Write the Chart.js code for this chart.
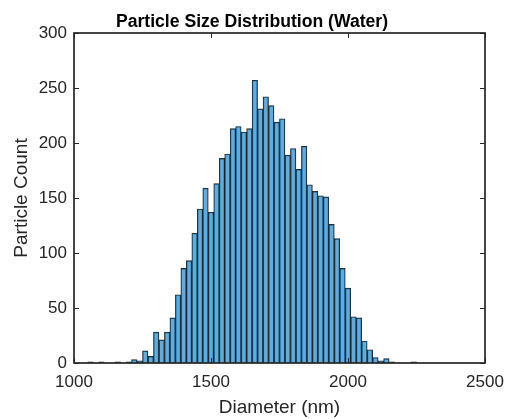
<!DOCTYPE html>
<html>
<head>
<meta charset="utf-8">
<title>Particle Size Distribution</title>
<script src="https://cdn.jsdelivr.net/npm/chart.js@4.4.1/dist/chart.umd.min.js"></script>
<style>
    html, body { margin: 0; padding: 0; background: #fff; }
    #histChart { display: block; }
</style>
</head>
<body>
<canvas id="histChart" width="508" height="419"></canvas>
<script>
// bin centres (nm), 20 nm wide bins
const binCenters = [
    1020, 1040, 1060, 1080, 1100, 1120, 1140, 1160, 1180, 1200,
    1220, 1240, 1260, 1280, 1300, 1320, 1340, 1360, 1380, 1400,
    1420, 1440, 1460, 1480, 1500, 1520, 1540, 1560, 1580, 1600,
    1620, 1640, 1660, 1680, 1700, 1720, 1740, 1760, 1780, 1800,
    1820, 1840, 1860, 1880, 1900, 1920, 1940, 1960, 1980, 2000,
    2020, 2040, 2060, 2080, 2100, 2120, 2140, 2160, 2180, 2200,
    2220, 2240
];
const counts = [
    0, 0, 1, 0, 1, 0, 0, 1, 0, 1,
    3, 2, 11, 6, 28, 21, 28, 41, 62, 86,
    93, 118, 140, 159, 137, 163, 186, 190, 213, 215,
    210, 213, 257, 231, 242, 234, 219, 222, 189, 195,
    176, 197, 162, 156, 152, 151, 126, 113, 86, 68,
    42, 41, 20, 12, 5, 2, 4, 1, 0, 0,
    0, 1
];
const xTicks = [1000, 1500, 2000, 2500];
const yTicks = [0, 50, 100, 150, 200, 250, 300];
const chartTitle = "Particle Size Distribution (Water)";

const axisColor = "#262626";
const fontFamily = "'Liberation Sans', Arial, Helvetica, sans-serif";

// MATLAB style box with inward ticks on all four sides, plus the title
const boxPlugin = {
    id: "boxAxes",
    afterDatasetsDraw(chart) {
        const { ctx, chartArea: a, scales } = chart;
        const len = 5;
        ctx.save();
        ctx.strokeStyle = axisColor;
        ctx.lineWidth = 1;
        ctx.beginPath();
        xTicks.forEach(v => {
            const px = Math.round(scales.x.getPixelForValue(v)) + 0.5;
            ctx.moveTo(px, a.bottom);
            ctx.lineTo(px, a.bottom - len);
            ctx.moveTo(px, a.top);
            ctx.lineTo(px, a.top + len);
        });
        yTicks.forEach(v => {
            const py = Math.round(scales.y.getPixelForValue(v)) + 0.5;
            ctx.moveTo(a.left, py);
            ctx.lineTo(a.left + len, py);
            ctx.moveTo(a.right, py);
            ctx.lineTo(a.right - len, py);
        });
        ctx.stroke();
        ctx.lineWidth = 1.7;
        ctx.strokeRect(a.left, a.top, a.right - a.left, a.bottom - a.top);

        ctx.fillStyle = "#000";
        ctx.font = "bold 17.6px " + fontFamily;
        ctx.textAlign = "center";
        ctx.textBaseline = "alphabetic";
        ctx.fillText(chartTitle, 252, 27);
        ctx.restore();
    }
};

function renderHistogram() {
    const ctx = document.getElementById("histChart");

    new Chart(ctx, {
        type: "bar",
        data: {
            datasets: [{
                data: binCenters.map((c, i) => ({ x: c, y: counts[i] })),
                backgroundColor: "rgba(0, 114, 189, 0.6)",
                borderColor: "rgba(0, 0, 0, 0.85)",
                borderWidth: { top: 0.7, left: 0.7, right: 0.7, bottom: 0 },
                borderSkipped: false,
                barPercentage: 1,
                categoryPercentage: 1
            }]
        },
        options: {
            responsive: false,
            animation: false,
            devicePixelRatio: 1,
            layout: {
                padding: { left: 0, right: 23, top: 33, bottom: 0 }
            },
            scales: {
                x: {
                    type: "linear",
                    offset: false,
                    min: 1000,
                    max: 2500,
                    afterBuildTicks: axis => {
                        axis.ticks = xTicks.map(v => ({ value: v }));
                    },
                    afterFit: axis => {
                        axis.height = 56;
                        axis.paddingLeft = 0;
                        axis.paddingRight = 0;
                    },
                    grid: { display: false, drawTicks: false },
                    border: { display: false },
                    ticks: {
                        color: axisColor,
                        padding: 9,
                        maxRotation: 0,
                        callback: v => String(v),
                        font: { family: fontFamily, size: 17 }
                    },
                    title: {
                        display: true,
                        text: "Diameter (nm)",
                        color: axisColor,
                        padding: { top: 0, bottom: 0 },
                        font: { family: fontFamily, size: 19 }
                    }
                },
                y: {
                    min: 0,
                    max: 300,
                    afterBuildTicks: axis => {
                        axis.ticks = yTicks.map(v => ({ value: v }));
                    },
                    afterFit: axis => {
                        axis.width = 74;
                        axis.paddingTop = 0;
                        axis.paddingBottom = 0;
                    },
                    grid: { display: false, drawTicks: false },
                    border: { display: false },
                    ticks: {
                        color: axisColor,
                        padding: 7,
                        callback: v => String(v),
                        font: { family: fontFamily, size: 17 }
                    },
                    title: {
                        display: true,
                        text: "Particle Count",
                        color: axisColor,
                        padding: { top: 10, bottom: 0 },
                        font: { family: fontFamily, size: 19 }
                    }
                }
            },
            plugins: {
                legend: { display: false },
                tooltip: { enabled: false },
                title: { display: false }
            }
        },
        plugins: [boxPlugin]
    });
};

renderHistogram();
</script>
</body>
</html>
